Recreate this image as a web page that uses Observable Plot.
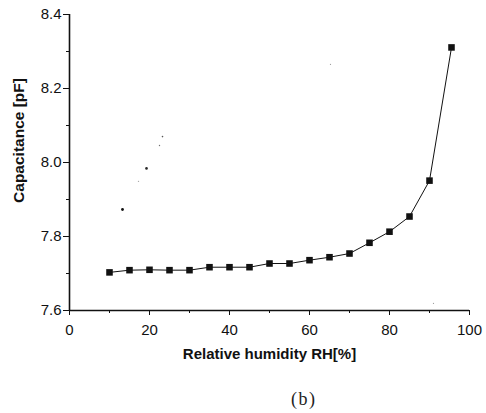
<!DOCTYPE html>
<html>
<head>
<meta charset="utf-8">
<script src="https://cdn.jsdelivr.net/npm/d3@7"></script>
<script src="https://cdn.jsdelivr.net/npm/@observablehq/plot@0.6"></script>
<style>
  html, body { margin: 0; padding: 0; background: #fff; }
  #wrap { position: relative; width: 486px; height: 413px; }
  #cap { position: absolute; left: 291px; top: 389px; font-family: "Liberation Serif", serif; font-size: 18px; letter-spacing: 1.5px; color: #222; }
</style>
</head>
<body>
<div id="wrap"><div id="chart"></div><div id="cap">(b)</div></div>
<script>
const humidity = [10, 15, 20, 25, 30, 35, 40, 45, 50, 55, 60, 65, 70, 75, 80, 85, 90, 95.5];
const capacitance = [7.703, 7.709, 7.71, 7.709, 7.709, 7.717, 7.717, 7.717, 7.727, 7.727, 7.736, 7.744, 7.754, 7.783, 7.813, 7.854, 7.951, 8.311];
const speckX = [13.25, 19.25, 17.25, 22.5, 23.25, 65.25, 91];
const speckY = [7.873, 7.984, 7.949, 8.046, 8.07, 8.265, 7.619];
const speckR = [1.4, 1.3, 0.7, 0.7, 0.8, 0.6, 0.6];
const speckOpacity = [1, 0.9, 0.4, 0.6, 0.7, 0.4, 0.4];
const xMajor = [0, 20, 40, 60, 80, 100];
const xMinor = [10, 30, 50, 70, 90];
const yMajor = [7.6, 7.8, 8.0, 8.2, 8.4];
const yMinor = [7.7, 7.9, 8.1, 8.3];
const xTitle = "Relative humidity RH[%]";
const yTitle = "Capacitance [pF]";

const data = humidity.map((h, i) => ({h, c: capacitance[i]}));
const specks = speckX.map((x, i) => ({x, y: speckY[i], r: speckR[i], o: speckOpacity[i]}));

const ink = "#111";
const chart = Plot.plot({
  width: 486,
  height: 375,
  marginLeft: 69,
  marginRight: 17,
  marginTop: 14,
  marginBottom: 65,
  style: {fontFamily: "'Liberation Sans', Arial, sans-serif", color: ink, background: "#fff"},
  x: {domain: [0, 100]},
  y: {domain: [7.6, 8.4]},
  r: {type: "identity"},
  opacity: {type: "identity"},
  marks: [
    Plot.ruleX([0], {y1: 7.6, y2: 8.4, stroke: ink, strokeWidth: 1.6}),
    Plot.ruleY([7.6], {x1: 0, x2: 100, stroke: ink, strokeWidth: 1.6}),
    Plot.axisX(xMajor, {tickSize: 5, tickPadding: 9, fontSize: 15, tickFormat: d => String(d), label: null}),
    Plot.axisX(xMinor, {tickSize: 3, text: null, label: null}),
    Plot.axisY(yMajor, {tickSize: 6, tickPadding: 2, fontSize: 15, tickFormat: d => d.toFixed(1), label: null}),
    Plot.axisY(yMinor, {tickSize: 3, text: null, label: null}),
    Plot.text([xTitle], {frameAnchor: "bottom", dy: 44, lineAnchor: "middle", textAnchor: "middle", fontSize: 15, fontWeight: "bold", fill: ink}),
    Plot.text([yTitle], {frameAnchor: "left", rotate: -90, dx: -50, dy: -22, lineAnchor: "middle", textAnchor: "middle", fontSize: 15.5, fontWeight: "bold", fill: ink}),
    Plot.line(data, {x: "h", y: "c", stroke: ink, strokeWidth: 1}),
    Plot.dot(data, {x: "h", y: "c", symbol: "square", r: 3.7, fill: ink, stroke: "none"}),
    Plot.dot(specks, {x: "x", y: "y", r: "r", fill: ink, fillOpacity: "o", stroke: "none"})
  ]
});
document.getElementById("chart").appendChild(chart);
</script>
</body>
</html>
